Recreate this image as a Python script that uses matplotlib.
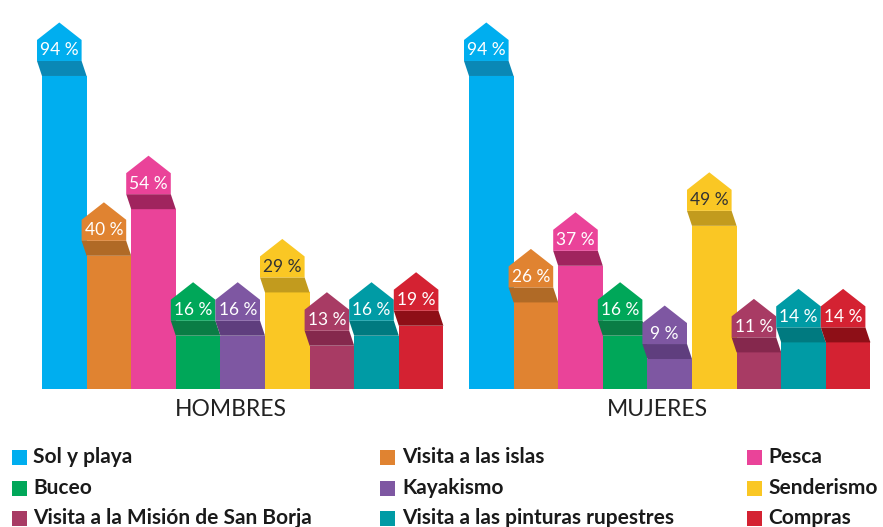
import matplotlib
matplotlib.use("Agg")
import matplotlib.pyplot as plt
from matplotlib.patches import Polygon, Rectangle

plt.rcParams['font.family'] = ['Lato', 'DejaVu Sans']

categories = ["Sol y playa", "Visita a las islas", "Pesca", "Buceo", "Kayakismo",
              "Senderismo", "Visita a la Misión de San Borja",
              "Visita a las pinturas rupestres", "Compras"]
groups = ["HOMBRES", "MUJERES"]
hombres = [94, 40, 54, 16, 16, 29, 13, 16, 19]
mujeres = [94, 26, 37, 16, 9, 49, 11, 14, 14]
values = [hombres, mujeres]

colors = ["#00AEEF", "#E08331", "#EA4399", "#00A759", "#7E57A2",
          "#FAC724", "#A83B64", "#009BA5", "#D42232"]
band_colors = ["#0A88B6", "#B06A26", "#A0245E", "#0A7D45", "#5F3E7E",
               "#C29B1E", "#85284D", "#007A80", "#8E0F17"]
text_colors = ["white"] * 5 + ["#333333"] + ["white"] * 3

W, H = 883, 527
fig = plt.figure(figsize=(W / 100, H / 100), dpi=100)
ax = fig.add_axes([0, 0, 1, 1])
ax.axis("off")

px_x = 44.6      # pixels per bar unit
px_y = 3.33      # pixels per percent
x0_px, y0_px = 42, 389
ax.set_xlim(-x0_px / px_x, (W - x0_px) / px_x)
ax.set_ylim(-(H - y0_px) / px_y, y0_px / px_y)

group_offsets = [0, (469 - x0_px) / px_x]
shift = 5 / px_x
band_h = 15 / px_y
rect_h = 21 / px_y
tri_h = 17.5 / px_y

for g, (off, vals) in enumerate(zip(group_offsets, values)):
    for i, v in enumerate(vals):
        x = off + i
        z = 2 + i * 3
        ax.bar(x, v, width=1.0, align="edge", color=colors[i], zorder=z, linewidth=0)
        band = Polygon([(x, v), (x + 1, v), (x + 1 - shift, v + band_h), (x - shift, v + band_h)],
                       closed=True, facecolor=band_colors[i], edgecolor="none", zorder=z + 1)
        ax.add_patch(band)
        yb = v + band_h
        pent = Polygon([(x - shift, yb), (x + 1 - shift, yb), (x + 1 - shift, yb + rect_h),
                        (x + 0.5 - shift, yb + rect_h + tri_h), (x - shift, yb + rect_h)],
                       closed=True, facecolor=colors[i], edgecolor="none", zorder=z + 1)
        ax.add_patch(pent)
        ax.text(x + 0.5 - shift, yb + rect_h / 2, f"{v} %", ha="center", va="center",
                color=text_colors[i], fontsize=12.5, zorder=z + 2)
    ax.text(off + 4.5 - 12 / px_x, -(410 - y0_px) / px_y, groups[g], ha="center", va="center",
            fontsize=16.5, color="#222222")

# legend
cols_sq = [12, 380, 747]
cols_tx = [33, 402, 768]
rows_y = [457, 488, 518]
sq = 15
for k, name in enumerate(categories):
    r, c = divmod(k, 3)
    xs, yc = cols_sq[c], rows_y[r]
    fig.add_artist(Rectangle((xs / W, 1 - (yc + sq / 2) / H), sq / W, sq / H,
                             transform=fig.transFigure, facecolor=colors[k], edgecolor="none"))
    fig.text(cols_tx[c] / W, 1 - yc / H, name, ha="left", va="center", fontsize=15,
             fontweight="bold", color="#1a1a1a")

fig.savefig("out.png", dpi=100)
